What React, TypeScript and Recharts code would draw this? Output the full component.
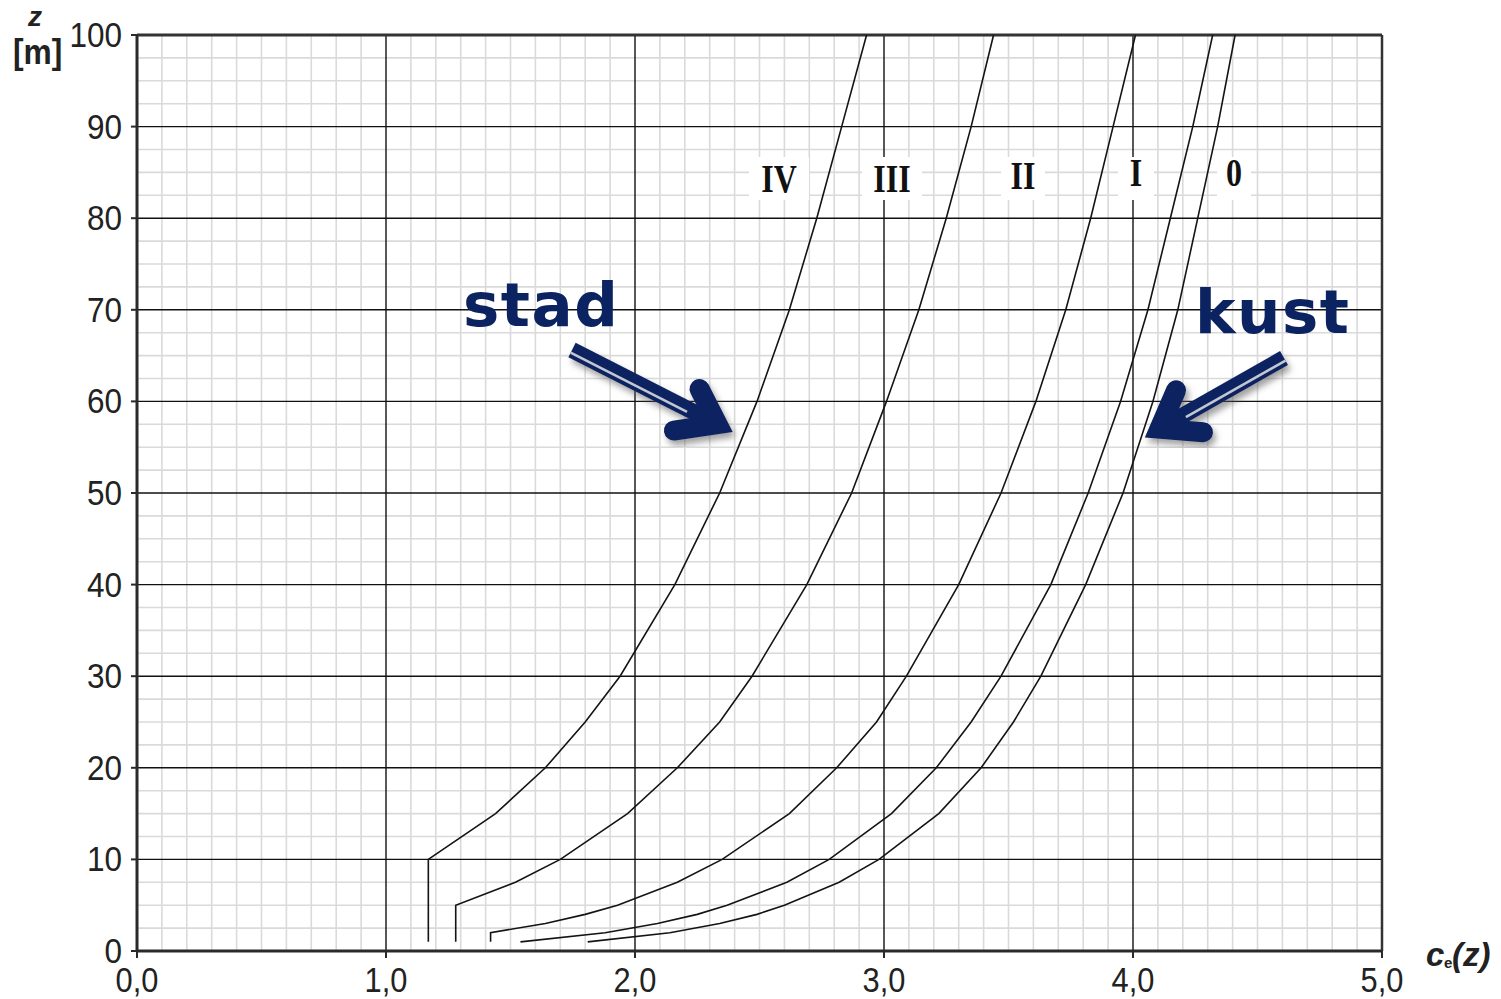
import { ScatterChart, Scatter, XAxis, YAxis, ReferenceLine } from "recharts";

// heights z [m] and exposure coefficient ce(z), per terrain category
const heights = [1, 2, 3, 4, 5, 7.5, 10, 15, 20, 25, 30, 40, 50, 60, 70, 80, 90, 100];
const ce0 = [1.81, 2.14, 2.34, 2.49, 2.6, 2.82, 2.98, 3.22, 3.39, 3.52, 3.63, 3.81, 3.96, 4.08, 4.18, 4.26, 4.34, 4.41];
const ceI = [1.54, 1.88, 2.09, 2.25, 2.37, 2.61, 2.78, 3.03, 3.21, 3.35, 3.47, 3.67, 3.82, 3.95, 4.06, 4.15, 4.24, 4.32];
const ceII = [1.42, 1.42, 1.64, 1.8, 1.93, 2.17, 2.35, 2.62, 2.81, 2.97, 3.09, 3.3, 3.47, 3.61, 3.73, 3.83, 3.92, 4.01];
const heightsIII = [1, 5, 7.5, 10, 15, 20, 25, 30, 40, 50, 60, 70, 80, 90, 100];
const ceIII = [1.28, 1.28, 1.52, 1.7, 1.97, 2.17, 2.34, 2.47, 2.69, 2.87, 3.01, 3.14, 3.25, 3.35, 3.44];
const heightsIV = [1, 10, 15, 20, 25, 30, 40, 50, 60, 70, 80, 90, 100];
const ceIV = [1.17, 1.17, 1.44, 1.64, 1.8, 1.94, 2.16, 2.34, 2.49, 2.62, 2.73, 2.83, 2.93];

const xTicks = [0, 1, 2, 3, 4, 5];
const xTickLabels = ["0,0", "1,0", "2,0", "3,0", "4,0", "5,0"];
const yTicks = [0, 10, 20, 30, 40, 50, 60, 70, 80, 90, 100];

const categoryLabels = ["IV", "III", "II", "I", "0"];

const W = 1501;
const H = 999;
const navy = "#0b2361";
const lineColor = "#141414";

const minorX = Array.from({ length: 50 }, (_, i) => i / 10).filter((v) => Math.round(v * 10) % 10 !== 0);
const minorY = Array.from({ length: 40 }, (_, i) => i * 2.5).filter((v) => v % 10 !== 0);
const majorX = [1, 2, 3, 4];
const majorY = [10, 20, 30, 40, 50, 60, 70, 80, 90];

const zip = (zs: number[], cs: number[]) => zs.map((z, i) => ({ ce: cs[i], z }));
const series = [
  zip(heights, ce0),
  zip(heights, ceI),
  zip(heights, ceII),
  zip(heightsIII, ceIII),
  zip(heightsIV, ceIV),
];

const noDot = () => <g />;

const tickFont = "'Liberation Sans', Arial, sans-serif";

const XTick = (props: any) => {
  const { x, y, payload } = props;
  const label = xTickLabels[xTicks.indexOf(payload.value)];
  return (
    <text
      transform={`translate(${x},${y + 25}) scale(0.88,1)`}
      textAnchor="middle"
      fontFamily={tickFont}
      fontSize={35}
      fill="#222"
    >
      {label}
    </text>
  );
};

const YTick = (props: any) => {
  const { x, y, payload } = props;
  return (
    <text
      transform={`translate(${x},${y + 12}) scale(0.9,1)`}
      textAnchor="end"
      fontFamily={tickFont}
      fontSize={35}
      fill="#222"
    >
      {payload.value}
    </text>
  );
};

type P = [number, number];
const sub = (a: P, b: P): P => [a[0] - b[0], a[1] - b[1]];
const add = (a: P, b: P): P => [a[0] + b[0], a[1] + b[1]];
const mul = (a: P, k: number): P => [a[0] * k, a[1] * k];
const unit = (a: P): P => {
  const l = Math.hypot(a[0], a[1]);
  return [a[0] / l, a[1] / l];
};

function Arrow({ start, tip, armA, armB }: { start: P; tip: P; armA: P; armB: P }) {
  const w = 20;
  const u1 = unit(sub(armA, tip));
  const u2 = unit(sub(armB, tip));
  const half = Math.acos(u1[0] * u2[0] + u1[1] * u2[1]) / 2;
  const out = unit(mul(add(u1, u2), -1));
  const v = sub(tip, mul(out, w / 2 / Math.sin(half)));
  const p1 = sub(armA, mul(unit(sub(armA, v)), w / 2));
  const p2 = sub(armB, mul(unit(sub(armB, v)), w / 2));
  const dir = unit(sub(v, start));
  let n: P = [-dir[1], dir[0]];
  if (n[1] < 0) n = mul(n, -1);
  const len = Math.hypot(v[0] - start[0], v[1] - start[1]);
  const s1 = add(start, mul(n, 3));
  const s2 = add(add(start, mul(dir, len * 0.8)), mul(n, 3));
  const f = (p: P) => `${p[0]},${p[1]}`;
  return (
    <g filter="url(#shadow)">
      <line x1={start[0]} y1={start[1]} x2={v[0]} y2={v[1]} stroke={navy} strokeWidth={16} />
      <line x1={s1[0]} y1={s1[1]} x2={s2[0]} y2={s2[1]} stroke="#c2c7d1" strokeWidth={2.5} />
      <path
        d={`M${f(p1)} L${f(v)} L${f(p2)}`}
        fill="none"
        stroke={navy}
        strokeWidth={w}
        strokeLinecap="round"
        strokeLinejoin="miter"
      />
    </g>
  );
}

// label boxes: [center x, baseline y, half width of the white box]
const labelPos: [number, number, number][] = [
  [779, 192, 30],
  [892, 192, 30],
  [1023, 189, 22],
  [1136, 186, 18],
  [1234, 186, 17],
];

export default function App() {
  return (
    <div style={{ position: "absolute", left: 0, top: 0, width: W, height: H, background: "#fff" }}>
      <ScatterChart width={W} height={H} margin={{ top: 35, right: 119, bottom: 8, left: 77 }}>
        <XAxis
          type="number"
          dataKey="ce"
          domain={[0, 5]}
          ticks={xTicks}
          interval={0}
          height={40}
          stroke="#222"
          axisLine={{ stroke: "#2a2a2a", strokeWidth: 3 }}
          tickLine={{ stroke: "#2a2a2a", strokeWidth: 2 }}
          tickSize={7}
          tickMargin={9}
          tick={<XTick />}
        />
        <YAxis
          type="number"
          dataKey="z"
          domain={[0, 100]}
          ticks={yTicks}
          interval={0}
          width={60}
          stroke="#222"
          axisLine={{ stroke: "#2a2a2a", strokeWidth: 3 }}
          tickLine={{ stroke: "#2a2a2a", strokeWidth: 2 }}
          tickSize={6}
          tickMargin={9}
          tick={<YTick />}
        />
        {minorX.map((v) => (
          <ReferenceLine key={`mx${v}`} x={v} stroke="#dadada" strokeWidth={1.6} />
        ))}
        {minorY.map((v) => (
          <ReferenceLine key={`my${v}`} y={v} stroke="#dadada" strokeWidth={1.6} />
        ))}
        {majorX.map((v) => (
          <ReferenceLine key={`Mx${v}`} x={v} stroke="#111" strokeWidth={1.4} />
        ))}
        {majorY.map((v) => (
          <ReferenceLine key={`My${v}`} y={v} stroke="#111" strokeWidth={1.4} />
        ))}
        <ReferenceLine y={100} stroke="#333" strokeWidth={3} />
        <ReferenceLine x={5} stroke="#333" strokeWidth={2.5} />
        {series.map((d, i) => (
          <Scatter
            key={i}
            data={d}
            fill={lineColor}
            line={{ stroke: lineColor, strokeWidth: 1.6 }}
            shape={noDot}
            isAnimationActive={false}
          />
        ))}
      </ScatterChart>
      <svg
        width={W}
        height={H}
        style={{ position: "absolute", left: 0, top: 0, pointerEvents: "none" }}
      >
        <defs>
          <filter id="shadow" x="-20%" y="-20%" width="140%" height="140%">
            <feDropShadow dx="3" dy="5" stdDeviation="3" floodColor="#555" floodOpacity="0.55" />
          </filter>
        </defs>
        {categoryLabels.map((t, i) => {
          const [cx, by, hw] = labelPos[i];
          return (
            <g key={t}>
              <rect x={cx - hw} y={157} width={hw * 2} height={43} fill="#fff" />
              <text
                transform={`translate(${cx},${by}) scale(0.8,1)`}
                textAnchor="middle"
                fontFamily="'Liberation Serif', 'Times New Roman', serif"
                fontWeight="bold"
                fontSize={40}
                fill="#111"
              >
                {t}
              </text>
            </g>
          );
        })}
        <text x={28} y={26} fontFamily={tickFont} fontWeight="bold" fontStyle="italic" fontSize={28} fill="#222">
          z
        </text>
        <text
          transform="translate(13,64) scale(0.88,1)"
          fontFamily={tickFont}
          fontWeight="bold"
          fontSize={36}
          fill="#222"
        >
          [m]
        </text>
        <text x={1426} y={966} fontFamily={tickFont} fontWeight="bold" fontStyle="italic" fontSize={33} fill="#222">
          c
        </text>
        <text x={1444} y={968} fontFamily={tickFont} fontWeight="bold" fontSize={15} fill="#222">
          e
        </text>
        <text x={1452} y={966} fontFamily={tickFont} fontWeight="bold" fontStyle="italic" fontSize={33} fill="#222">
          (z)
        </text>
        <text
          x={463}
          y={326}
          fontFamily="'DejaVu Sans', Verdana, sans-serif"
          fontWeight="bold"
          fontSize={61}
          letterSpacing={1.5}
          fill={navy}
        >
          stad
        </text>
        <text
          x={1195}
          y={333}
          fontFamily="'DejaVu Sans', Verdana, sans-serif"
          fontWeight="bold"
          fontSize={61}
          letterSpacing={1.5}
          fill={navy}
        >
          kust
        </text>
        <Arrow start={[572, 350]} tip={[739, 435]} armA={[695, 380]} armB={[664, 432]} />
        <Arrow start={[1284, 358]} tip={[1139, 441]} armA={[1180, 381]} armB={[1213, 433]} />
      </svg>
    </div>
  );
}
